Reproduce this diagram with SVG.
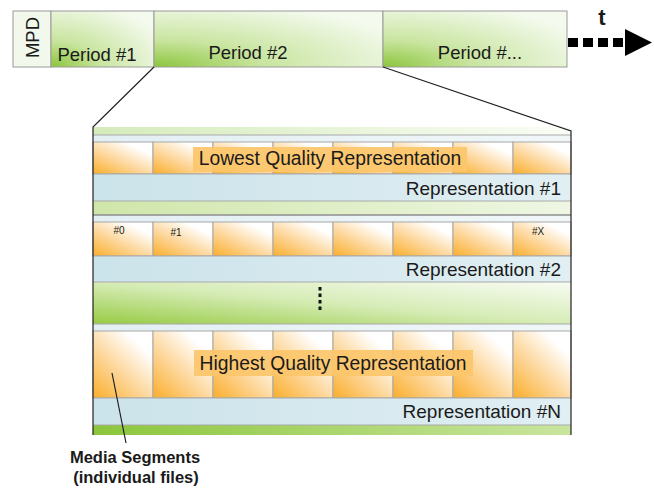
<svg xmlns="http://www.w3.org/2000/svg" width="654" height="489" viewBox="0 0 654 489">
  <defs>
    <radialGradient id="gPeriod" cx="0" cy="1" r="1.2" fx="0" fy="1">
      <stop offset="0" stop-color="#8cc53c"/>
      <stop offset="0.4" stop-color="#c9e5a0"/>
      <stop offset="1" stop-color="#f4faee"/>
    </radialGradient>
    <linearGradient id="gSeg" x1="0" y1="1" x2="0.85" y2="0">
      <stop offset="0" stop-color="#fbae2a"/>
      <stop offset="0.45" stop-color="#fdd79c"/>
      <stop offset="0.85" stop-color="#ffffff"/>
    </linearGradient>
    <linearGradient id="gBlue" x1="0" y1="0" x2="1" y2="0">
      <stop offset="0" stop-color="#cbe3ea"/>
      <stop offset="1" stop-color="#e1eff3"/>
    </linearGradient>
    <linearGradient id="gPale" x1="0" y1="0" x2="1" y2="0">
      <stop offset="0" stop-color="#e2eff3"/>
      <stop offset="1" stop-color="#f1f7f9"/>
    </linearGradient>
    <linearGradient id="gGreenTop" x1="0" y1="0" x2="1" y2="0">
      <stop offset="0" stop-color="#d5ebbb"/>
      <stop offset="1" stop-color="#fafdf6"/>
    </linearGradient>
    <linearGradient id="gGreenSep" x1="0" y1="0" x2="1" y2="0">
      <stop offset="0" stop-color="#cfe6a9"/>
      <stop offset="1" stop-color="#eff7e4"/>
    </linearGradient>
    <linearGradient id="gGreenMid" x1="0" y1="1" x2="1" y2="0">
      <stop offset="0" stop-color="#97cb45"/>
      <stop offset="0.5" stop-color="#d6ecb6"/>
      <stop offset="1" stop-color="#f8fcf3"/>
    </linearGradient>
    <linearGradient id="gGreenBot" x1="0" y1="0" x2="1" y2="0">
      <stop offset="0" stop-color="#8cc63c"/>
      <stop offset="1" stop-color="#c9e59e"/>
    </linearGradient>
  </defs>
  <style>
    text { font-family: "Liberation Sans", Arial, sans-serif; fill: #1a1a1a; }
    .box { stroke: #9a9a9a; stroke-width: 1; }
    .period { fill: url(#gPeriod); stroke: #9a9a9a; stroke-width: 1; }
    .seg { fill: url(#gSeg); stroke: #a8a8a8; stroke-width: 1; }
    .sep { stroke: #a9a9a9; stroke-width: 1; }
    .big { font-size: 18.5px; }
    .rep { font-size: 19px; text-anchor: end; }
    .qual { font-size: 19.3px; text-anchor: middle; }
    .tag { fill: #fcc56a; fill-opacity: 0.92; }
    .idx { font-size: 10px; text-anchor: middle; }
    .note { font-size: 16.5px; font-weight: bold; text-anchor: middle; }
    .edge { stroke: #222; stroke-width: 1.2; fill: none; }
  </style>

  <!-- timeline of the MPD -->
  <g id="mpd">
    <rect class="box" x="13" y="11" width="38" height="56" fill="#f3f8ec"/>
    <text class="big" transform="translate(39 37.5) rotate(-90)" text-anchor="middle">MPD</text>
  </g>
  <g id="period1">
    <rect class="period" x="51" y="11" width="103" height="56"/>
    <text class="big" x="97" y="61" text-anchor="middle">Period #1</text>
  </g>
  <g id="period2">
    <rect class="period" x="154" y="11" width="229" height="56"/>
    <text class="big" x="248" y="59" text-anchor="middle">Period #2</text>
  </g>
  <g id="period-n">
    <rect class="period" x="383" y="11" width="184" height="56"/>
    <text class="big" x="480" y="59" text-anchor="middle">Period #...</text>
  </g>
  <g id="time-axis">
    <line x1="568" y1="42.5" x2="626" y2="42.5" stroke="#000" stroke-width="9" stroke-dasharray="10 5"/>
    <polygon points="625,29 652,42.5 625,56" fill="#000"/>
    <text x="602" y="25" font-size="22" font-weight="bold" text-anchor="middle">t</text>
  </g>

  <!-- expanded view of Period #2 -->
  <g id="period-detail">
    <rect x="93" y="127" width="478" height="8" fill="url(#gGreenTop)"/>
    <rect x="93" y="135" width="478" height="7" fill="url(#gPale)"/>
    <line class="sep" x1="93" y1="135" x2="571" y2="135"/>
  </g>

  <g id="representation-1">
    <g>
      <rect class="seg" x="93" y="142" width="60" height="32"/>
      <rect class="seg" x="153" y="142" width="60" height="32"/>
      <rect class="seg" x="213" y="142" width="60" height="32"/>
      <rect class="seg" x="273" y="142" width="60" height="32"/>
      <rect class="seg" x="333" y="142" width="60" height="32"/>
      <rect class="seg" x="393" y="142" width="60" height="32"/>
      <rect class="seg" x="453" y="142" width="60" height="32"/>
      <rect class="seg" x="513" y="142" width="58" height="32"/>
    </g>
    <rect class="tag" x="193" y="147" width="274" height="25"/>
    <text class="qual" x="330" y="165">Lowest Quality Representation</text>
    <rect x="93" y="174" width="478" height="27" fill="url(#gBlue)"/>
    <line class="sep" x1="93" y1="174" x2="571" y2="174"/>
    <text class="rep" x="561" y="195">Representation #1</text>
    <rect x="93" y="201" width="478" height="14" fill="url(#gGreenSep)"/>
    <line class="sep" x1="93" y1="201" x2="571" y2="201"/>
  </g>

  <g id="representation-2">
    <rect x="93" y="215" width="478" height="7" fill="url(#gPale)"/>
    <line x1="93" y1="215" x2="571" y2="215" stroke="#8e8e8e" stroke-width="1.5"/>
    <g>
      <rect class="seg" x="93" y="222" width="60" height="34"/>
      <rect class="seg" x="153" y="222" width="60" height="34"/>
      <rect class="seg" x="213" y="222" width="60" height="34"/>
      <rect class="seg" x="273" y="222" width="60" height="34"/>
      <rect class="seg" x="333" y="222" width="60" height="34"/>
      <rect class="seg" x="393" y="222" width="60" height="34"/>
      <rect class="seg" x="453" y="222" width="60" height="34"/>
      <rect class="seg" x="513" y="222" width="58" height="34"/>
    </g>
    <text class="idx" x="119" y="234">#0</text>
    <text class="idx" x="176" y="236">#1</text>
    <text class="idx" x="538" y="235">#X</text>
    <rect x="93" y="256" width="478" height="26" fill="url(#gBlue)"/>
    <line class="sep" x1="93" y1="256" x2="571" y2="256"/>
    <text class="rep" x="561" y="276">Representation #2</text>
  </g>

  <g id="more-representations">
    <rect x="93" y="282" width="478" height="42" fill="url(#gGreenMid)"/>
    <line class="sep" x1="93" y1="282" x2="571" y2="282"/>
    <line x1="320" y1="287" x2="320" y2="311" stroke="#111" stroke-width="3" stroke-dasharray="3.5 3"/>
  </g>

  <g id="representation-n">
    <rect x="93" y="324" width="478" height="7" fill="url(#gPale)"/>
    <line class="sep" x1="93" y1="324" x2="571" y2="324"/>
    <g>
      <rect class="seg" x="93" y="331" width="60" height="67"/>
      <rect class="seg" x="153" y="331" width="60" height="67"/>
      <rect class="seg" x="213" y="331" width="60" height="67"/>
      <rect class="seg" x="273" y="331" width="60" height="67"/>
      <rect class="seg" x="333" y="331" width="60" height="67"/>
      <rect class="seg" x="393" y="331" width="60" height="67"/>
      <rect class="seg" x="453" y="331" width="60" height="67"/>
      <rect class="seg" x="513" y="331" width="58" height="67"/>
    </g>
    <rect class="tag" x="194" y="350" width="279" height="26"/>
    <text class="qual" x="333" y="370">Highest Quality Representation</text>
    <rect x="93" y="398" width="478" height="27" fill="url(#gBlue)"/>
    <line class="sep" x1="93" y1="398" x2="571" y2="398"/>
    <text class="rep" x="561" y="418">Representation #N</text>
    <rect x="93" y="425" width="478" height="10" fill="url(#gGreenBot)"/>
    <line class="sep" x1="93" y1="425" x2="571" y2="425"/>
  </g>

  <g id="media-segments-label">
    <text class="note" x="135" y="463">Media Segments</text>
    <text class="note" x="136" y="483">(individual files)</text>
  </g>

  <!-- zoom lines, frame edges and the segment pointer -->
  <g id="connectors">
    <path class="edge" d="M154,67 L93,127 L93,435"/>
    <path class="edge" d="M383,67 L571,131 L571,435"/>
    <line class="edge" x1="112" y1="373" x2="126" y2="443"/>
  </g>
</svg>
